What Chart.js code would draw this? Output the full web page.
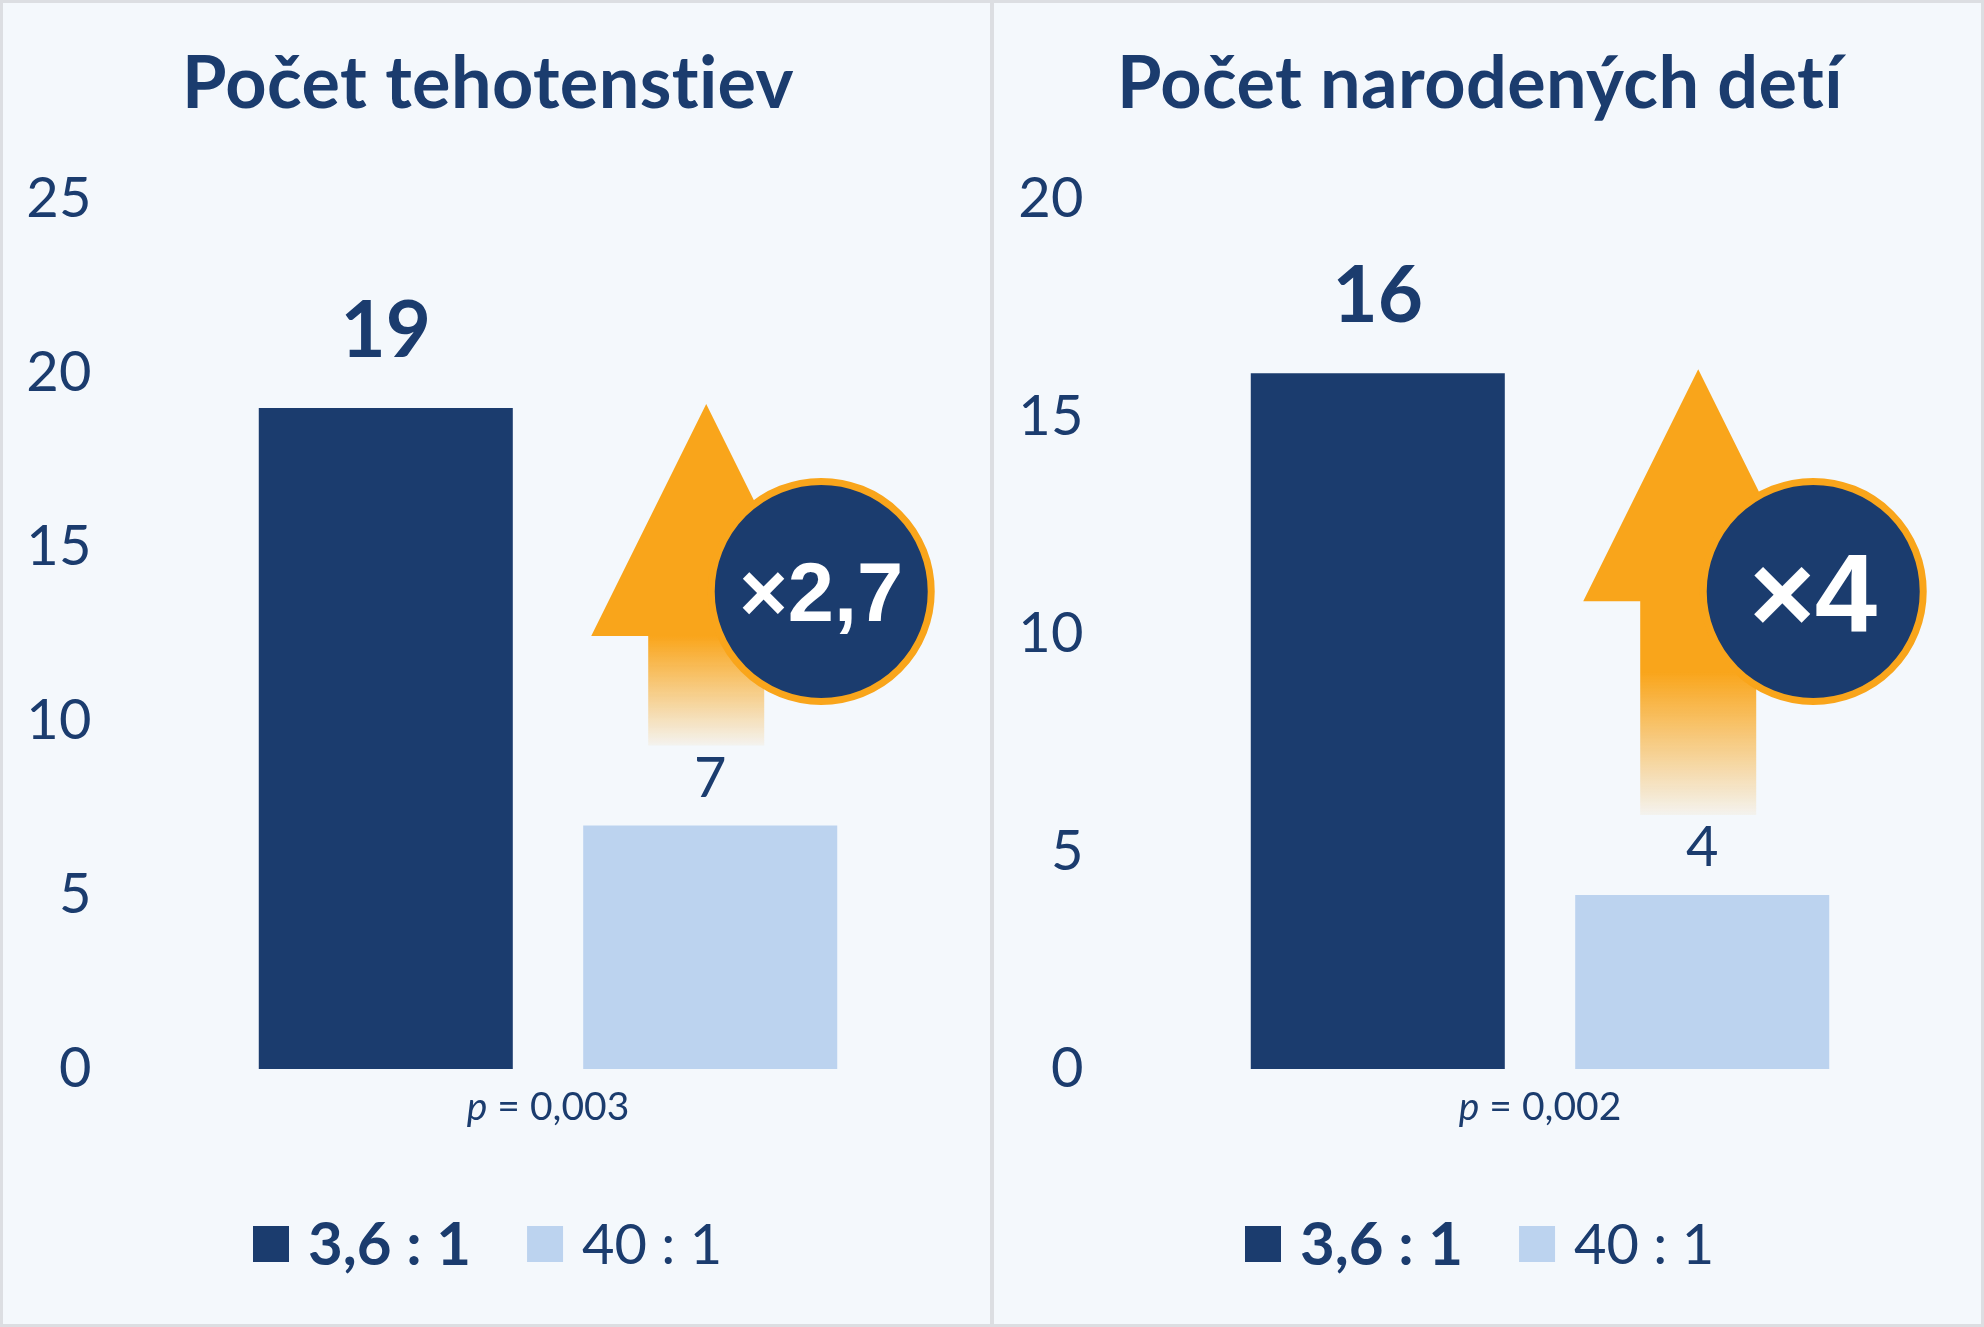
<!DOCTYPE html>
<html>
<head>
<meta charset="utf-8">
<script src="https://cdn.jsdelivr.net/npm/chart.js@4"></script>
<style>
  html, body { margin: 0; padding: 0; background: #f4f8fc; }
  #wrap { position: relative; width: 1984px; height: 1327px; overflow: hidden; }
  canvas { position: absolute; top: 0; }
  #c1 { left: 0; }
  #c2 { left: 992px; }
  .frame { position: absolute; left: 0; top: 0; width: 1978px; height: 1321px; border: 3px solid #dcdee2; }
  .divider { position: absolute; left: 990px; top: 0; width: 4px; height: 1327px; background: #dcdee2; }
</style>
</head>
<body>
<div id="wrap">
  <canvas id="c1" width="992" height="1327"></canvas>
  <canvas id="c2" width="992" height="1327"></canvas>
  <div class="frame"></div>
  <div class="divider"></div>
</div>
<script>
const panelTitles = ['Počet tehotenstiev', 'Počet narodených detí'];
const seriesLabels = ['3,6 : 1', '40 : 1'];
const highRatioCounts = [19, 16];
const lowRatioCounts = [7, 4];
const pValues = ['0,003', '0,002'];
const foldChanges = ['×2,7', '×4'];
const yMaxValues = [25, 20];
const yStep = 5;

const navy = '#1b3c6e';
const lightBlue = '#bcd3ef';
const orange = '#f9a51b';
const font = 'Lato, "Noto Sans", sans-serif';

// arrow, badge, value labels, p-value and legend
const extrasPlugin = {
  id: 'extras',
  beforeDraw(chart) {
    // tiny spacing keeps the "ti" in the titles from turning into a ligature
    chart.ctx.letterSpacing = '0.4px';
  },
  beforeDatasetsDraw(chart) {
    chart.ctx.letterSpacing = '0px';
  },
  afterDatasetsDraw(chart, args, opts) {
    const ctx = chart.ctx;
    const area = chart.chartArea;
    const dark = chart.getDatasetMeta(0).data[0];
    const light = chart.getDatasetMeta(1).data[0];
    ctx.save();

    // orange arrow, fading out towards the small bar
    const ax = light.x - 4, ay = dark.y - 4;
    const by = ay + 232, bottom = light.y - 80;
    const grad = ctx.createLinearGradient(0, ay, 0, bottom);
    grad.addColorStop(0, orange);
    grad.addColorStop(0.68, orange);
    grad.addColorStop(1, 'rgba(249,165,27,0.06)');
    ctx.fillStyle = grad;
    ctx.beginPath();
    ctx.moveTo(ax, ay);
    ctx.lineTo(ax + 115, by);
    ctx.lineTo(ax + 58, by);
    ctx.lineTo(ax + 58, bottom);
    ctx.lineTo(ax - 58, bottom);
    ctx.lineTo(ax - 58, by);
    ctx.lineTo(ax - 115, by);
    ctx.closePath();
    ctx.fill();

    // badge
    const cx = light.x + light.width / 2 - 16, cy = area.top + 392;
    ctx.beginPath();
    ctx.arc(cx, cy, 110, 0, Math.PI * 2);
    ctx.fillStyle = navy;
    ctx.fill();
    ctx.lineWidth = 7;
    ctx.strokeStyle = orange;
    ctx.stroke();
    ctx.fillStyle = '#ffffff';
    ctx.font = 'bold ' + opts.badgeSize + 'px "Liberation Sans", Arial, sans-serif';
    ctx.textAlign = 'center';
    ctx.textBaseline = 'alphabetic';
    ctx.fillText(opts.badge, cx, cy + opts.badgeSize * 0.36);

    // value labels
    ctx.fillStyle = navy;
    ctx.textBaseline = 'middle';
    chart.data.datasets.forEach((ds, i) => {
      const bar = chart.getDatasetMeta(i).data[0];
      ctx.font = i === 0 ? 'bold 78px ' + font : '56px ' + font;
      ctx.fillText(String(ds.data[0]), bar.x, bar.y - (i === 0 ? 76 : 47));
    });

    // p-value under the bars
    const px = chart.scales.x.getPixelForValue(0);
    const rest = ' = ' + opts.p;
    ctx.font = 'italic 39px ' + font;
    const w1 = ctx.measureText('p').width;
    ctx.font = '39px ' + font;
    const w2 = ctx.measureText(rest).width;
    let x0 = px - (w1 + w2) / 2;
    ctx.textAlign = 'left';
    ctx.font = 'italic 39px ' + font;
    ctx.fillText('p', x0, 1107);
    ctx.font = '39px ' + font;
    ctx.fillText(rest, x0 + w1, 1107);

    // legend
    let lx = 253;
    chart.data.datasets.forEach((ds, i) => {
      ctx.fillStyle = ds.backgroundColor;
      ctx.fillRect(lx, 1226, 36, 36);
      lx += 36 + 19;
      ctx.font = i === 0 ? 'bold 60px ' + font : '56px ' + font;
      ctx.fillStyle = navy;
      ctx.fillText(ds.label, lx, 1246);
      lx += ctx.measureText(ds.label).width + 56;
    });

    ctx.restore();
  }
};

function makeChart(id, i, badgeSize) {
  return new Chart(document.getElementById(id), {
    type: 'bar',
    data: {
      labels: ['p = ' + pValues[i]],
      datasets: [
        { label: seriesLabels[0], data: [highRatioCounts[i]], backgroundColor: navy },
        { label: seriesLabels[1], data: [lowRatioCounts[i]], backgroundColor: lightBlue }
      ]
    },
    options: {
      responsive: false,
      animation: false,
      devicePixelRatio: 1,
      layout: { padding: { top: 20, bottom: 258, left: 0, right: 16 } },
      datasets: { bar: { categoryPercentage: 0.758, barPercentage: 0.783 } },
      plugins: {
        legend: { display: false },
        tooltip: { enabled: false },
        title: {
          display: true,
          text: panelTitles[i],
          color: navy,
          font: { family: font, size: 72, weight: 'bold', lineHeight: 1.2 },
          padding: { top: 22, bottom: 71 }
        },
        extras: { badge: foldChanges[i], badgeSize: badgeSize, p: pValues[i] }
      },
      scales: {
        x: { display: false },
        y: {
          min: 0,
          max: yMaxValues[i],
          ticks: { stepSize: yStep, padding: 28, color: navy, font: { family: font, size: 56 } },
          grid: { display: false, drawTicks: false },
          border: { display: false },
          afterFit(s) { s.width = 120; }
        }
      }
    },
    plugins: [extrasPlugin]
  });
}

Promise.all([
  document.fonts.load('bold 72px Lato'),
  document.fonts.load('56px Lato'),
  document.fonts.load('italic 38px Lato'),
  document.fonts.load('bold 80px "Liberation Sans"')
]).catch(() => {}).then(() => {
  makeChart('c1', 0, 83);
  makeChart('c2', 1, 112);
});
</script>
</body>
</html>
